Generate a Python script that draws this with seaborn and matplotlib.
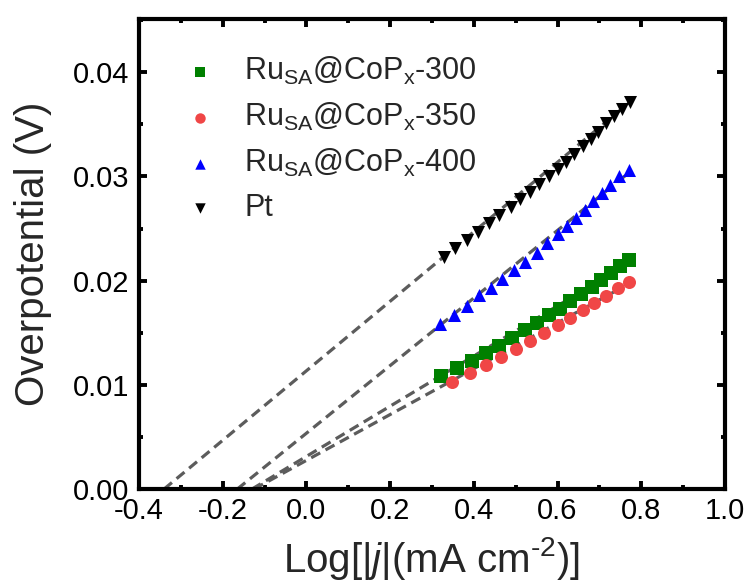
import numpy as np
import pandas as pd
import matplotlib
matplotlib.use("Agg")
import matplotlib.pyplot as plt
import seaborn as sns
from matplotlib.ticker import MultipleLocator, FormatStrFormatter

# ---- data ----
labels = [r"Ru$_{\mathregular{SA}}$@CoP$_{\mathregular{x}}$-300",
          r"Ru$_{\mathregular{SA}}$@CoP$_{\mathregular{x}}$-350",
          r"Ru$_{\mathregular{SA}}$@CoP$_{\mathregular{x}}$-400",
          "Pt"]

x_300 = [0.322, 0.359, 0.395, 0.429, 0.461, 0.491, 0.522, 0.550, 0.579, 0.605,
         0.631, 0.656, 0.682, 0.705, 0.727, 0.749, 0.771]
y_300 = [0.01086, 0.01162, 0.01226, 0.01303, 0.01373, 0.01450, 0.01525, 0.01589,
         0.01666, 0.01732, 0.01803, 0.01873, 0.01936, 0.02006, 0.02073, 0.02137, 0.02194]

x_350 = [0.349, 0.391, 0.430, 0.465, 0.502, 0.535, 0.568, 0.600, 0.631, 0.660,
         0.688, 0.717, 0.745, 0.771]
y_350 = [0.01029, 0.01111, 0.01188, 0.01268, 0.01341, 0.01420, 0.01494, 0.01570,
         0.01640, 0.01717, 0.01787, 0.01850, 0.01927, 0.01984]

x_400 = [0.320, 0.352, 0.384, 0.412, 0.440, 0.467, 0.496, 0.523, 0.550, 0.575,
         0.600, 0.622, 0.643, 0.665, 0.685, 0.706, 0.726, 0.747, 0.770]
y_400 = [0.0158, 0.01675, 0.0176, 0.0186, 0.0193, 0.0202, 0.0210, 0.0218, 0.0227,
         0.0236, 0.0245, 0.0252, 0.0260, 0.0268, 0.0276, 0.0284, 0.0292, 0.0300, 0.0306]

x_pt = [0.329, 0.356, 0.384, 0.411, 0.436, 0.461, 0.488, 0.511, 0.534, 0.556, 0.579,
        0.600, 0.620, 0.640, 0.661, 0.679, 0.697, 0.715, 0.734, 0.755, 0.773]
y_pt = [0.0223, 0.0231, 0.0239, 0.0247, 0.0255, 0.0263, 0.0271, 0.0278, 0.0285,
        0.0293, 0.0300, 0.0307, 0.0314, 0.0322, 0.0329, 0.0336, 0.0343, 0.0351,
        0.0358, 0.0365, 0.0371]

# dashed Tafel fit lines: (x where fit reaches 0 V) -> (end x, end y)
fit_x_start = [-0.130, -0.125, -0.165, -0.340]
fit_x_end = [0.775, 0.775, 0.775, 0.775]
fit_y_end = [0.0218, 0.0198, 0.0305, 0.0372]

colors = ["#008000", "#F04646", "#0000FF", "#000000"]
markers = ["s", "o", "^", "v"]

xs = [x_300, x_350, x_400, x_pt]
ys = [y_300, y_350, y_400, y_pt]

# ---- style ----
sns.set_theme(style="ticks")
plt.rcParams["font.family"] = ["Liberation Sans", "DejaVu Sans"]
plt.rcParams["mathtext.fontset"] = "custom"
plt.rcParams["mathtext.rm"] = "Liberation Sans"
plt.rcParams["mathtext.it"] = "Liberation Sans:italic"
plt.rcParams["axes.unicode_minus"] = False

fig = plt.figure(figsize=(7.51, 5.85), dpi=100)
ax = fig.add_axes([0.185, 0.164, 0.7803, 0.8034])

for x0, x1, y1 in zip(fit_x_start, fit_x_end, fit_y_end):
    line_df = pd.DataFrame({"x": [x0, x1], "y": [0.0, y1]})
    sns.lineplot(data=line_df, x="x", y="y", ax=ax, color="#5c5c5c",
                 linestyle=(0, (3.2, 1.9)), linewidth=2.3, zorder=1, legend=False)

for x, y, lab, c, mk in zip(xs, ys, labels, colors, markers):
    df = pd.DataFrame({"x": x, "y": y})
    sns.scatterplot(data=df, x="x", y="y", ax=ax, color=c, marker=mk, s=88,
                    linewidth=0, label=lab, zorder=3)

ax.set_xlim(-0.4, 1.0)
ax.set_ylim(0.0, 0.0451)
ax.xaxis.set_major_locator(MultipleLocator(0.2))
ax.xaxis.set_minor_locator(MultipleLocator(0.1))
ax.yaxis.set_major_locator(MultipleLocator(0.01))
ax.yaxis.set_minor_locator(MultipleLocator(0.005))
ax.xaxis.set_major_formatter(FormatStrFormatter("%.1f"))
ax.yaxis.set_major_formatter(FormatStrFormatter("%.2f"))

ax.tick_params(which="both", direction="in", top=True, right=True, width=2.8,
               colors="black")
ax.tick_params(which="major", length=5.5, labelsize=21)
ax.tick_params(axis="x", which="major", pad=6)
ax.tick_params(axis="y", which="major", pad=7)
ax.tick_params(which="minor", length=2.8)
for sp in ax.spines.values():
    sp.set_linewidth(3.0)
    sp.set_color("black")

ax.set_xlabel("Log[|$j$|(mA cm$^{\u20102}$)]", fontsize=29, labelpad=7)
ax.set_ylabel("Overpotential (V)", fontsize=29, labelpad=15)

leg = ax.legend(loc="upper left", frameon=False, fontsize=22, handletextpad=0.45,
                labelspacing=0.46, borderaxespad=0.0, markerscale=0.8,
                bbox_to_anchor=(0.031, 0.95))

fig.savefig("out.png", dpi=100)
